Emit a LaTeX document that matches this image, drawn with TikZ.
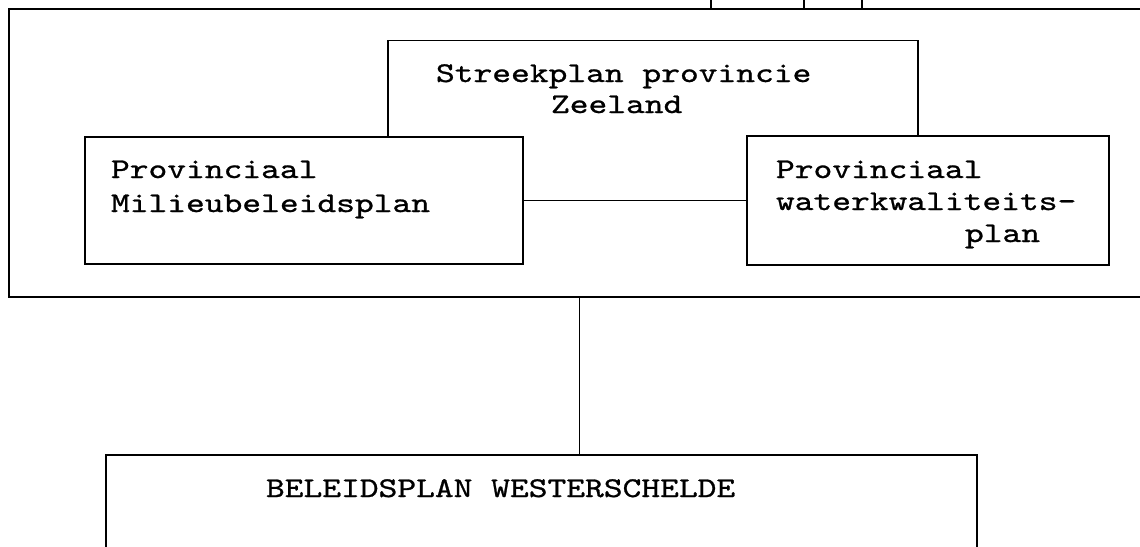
\documentclass[tikz,border=0pt]{standalone}
\usepackage{fontspec}
\newfontfamily\courf{lmmono10-regular}[Extension=.otf,FakeStretch=1.25,FakeBold=0.9]
\begin{document}
\begin{tikzpicture}[x=1pt,y=-1pt,
  ln/.style={line width=1.9pt,line cap=rect},
  boxnode/.style={draw,ln,fill=white,rectangle,inner sep=0pt,outer sep=0pt},
  txt/.style={anchor=base west,inner sep=0pt,outer sep=0pt,font=\courf\fontsize{28.6}{34}\selectfont}]
\clip (0,0) rectangle (1140,546);
% outer box
\node[boxnode,minimum width=1141pt,minimum height=288pt] (big) at (579.5,153) {};
% top lines
\coordinate (t1) at (711,-5);
\coordinate (t2) at (804,-5);
\coordinate (t3) at (862,-5);
\draw[ln] (t1) -- (t1 |- big.north);
\draw[ln] (t2) -- (t2 |- big.north);
\draw[ln] (t3) -- (t3 |- big.north);
% streekplan box (behind)
\node[boxnode,minimum width=530pt,minimum height=160pt] (streek) at (653,120.5) {};
% milieu and water boxes
\node[boxnode,minimum width=438pt,minimum height=127pt] (mil) at (304,200.5) {};
\node[boxnode,minimum width=362pt,minimum height=129pt] (wat) at (928,200.5) {};
\draw[ln] (mil.east) -- (wat.west);
% beleidsplan box
\node[boxnode,minimum width=871pt,minimum height=130pt] (bel) at (541.5,520) {};
\draw[ln] (big.south) -- (big.south |- bel.north);
% texts
\node[txt] (s1) at (436,82) {Streekplan provincie};
\node[txt] (s2) at (551,113) {Zeeland};
\node[txt] (m1) at (111,178) {Provinciaal};
\node[txt] (m2) at (111,212) {Milieubeleidsplan};
\node[txt] (w1) at (776,178) {Provinciaal};
\node[txt] (w2) at (776,210) {waterkwaliteits-};
\node[txt] (w3) at (965,242) {plan};
\node[txt] (b1) at (266,497) {BELEIDSPLAN WESTERSCHELDE};
\end{tikzpicture}
\end{document}
